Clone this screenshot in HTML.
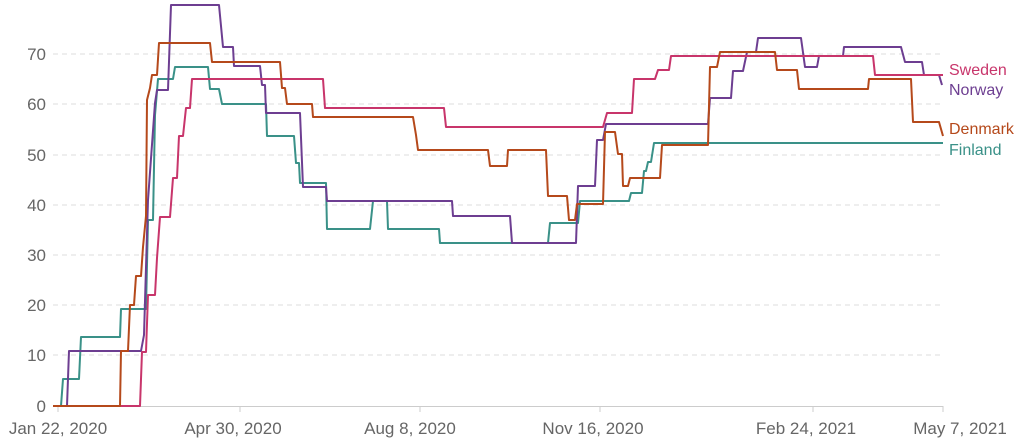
<!DOCTYPE html>
<html><head><meta charset="utf-8"><style>
body{margin:0;background:#fff;}
svg text{font-family:"Liberation Sans",sans-serif;}
</style></head><body>
<svg width="1024" height="443" viewBox="0 0 1024 443" xmlns="http://www.w3.org/2000/svg">
<g stroke="#ddd" stroke-dasharray="5,4" stroke-width="1">
<line x1="53" x2="943" y1="54" y2="54"/><line x1="53" x2="943" y1="104" y2="104"/>
<line x1="53" x2="943" y1="155" y2="155"/><line x1="53" x2="943" y1="205" y2="205"/>
<line x1="53" x2="943" y1="255" y2="255"/><line x1="53" x2="943" y1="305" y2="305"/>
<line x1="53" x2="943" y1="355" y2="355"/>
</g>
<line x1="53" x2="943" y1="406.5" y2="406.5" stroke="#ccc"/>
<g stroke="#ccc"><line x1="58" x2="58" y1="406" y2="412"/><line x1="240" x2="240" y1="406" y2="412"/><line x1="420" x2="420" y1="406" y2="412"/><line x1="600" x2="600" y1="406" y2="412"/><line x1="813" x2="813" y1="406" y2="412"/><line x1="943" x2="943" y1="406" y2="412"/></g>
<g fill="#666" font-size="17" text-anchor="end">
<text x="46" y="60">70</text><text x="46" y="110">60</text><text x="46" y="161">50</text><text x="46" y="211">40</text><text x="46" y="261">30</text><text x="46" y="311">20</text><text x="46" y="361">10</text><text x="46" y="412">0</text>
</g>
<g fill="#666" font-size="17" text-anchor="middle">
<text x="58" y="434">Jan 22, 2020</text><text x="233" y="434">Apr 30, 2020</text><text x="410" y="434">Aug 8, 2020</text><text x="593" y="434">Nov 16, 2020</text><text x="806" y="434">Feb 24, 2021</text><text x="960" y="434">May 7, 2021</text>
</g>
<g fill="none" stroke-width="2" stroke-linejoin="round">
<polyline stroke="#3a9188" points="53,406 61,406 63,379 79,379 81,337 120,337 121,309 146,309 148,220 153,220 155,115 158,79 173,79 175,67 208,67 210,89 219,89 222,104 266,104 267,136 294,136 296,163 299,163 300,183 326,183 327,229 370,229 373,201 387,201 388,229 439,229 440,243 548,243 550,223 578,223 580,201 629,201 631,193 642,193 644,171 646,171 648,162 651,162 654,143 943,143"/>
<polyline stroke="#6d3e91" points="53,406 67,406 69,351 141,351 144,335 148,200 155,103 157,90 168,90 171,5 219,5 223,47 233,47 234,66 260,66 262,85 265,85 266,113 300,113 303,187 326,187 327,201 452,201 453,216 510,216 512,243 576,243 578,186 595,186 597,140 603,140 606,124 708,124 710,98 731,98 733,71 743,71 747,52 756,52 758,38 801,38 805,67 817,67 819,56 843,56 844,47 901,47 905,62 922,62 924,75 939,75 942,85"/>
<polyline stroke="#c8356b" points="53,406 140,406 142,352 146,352 148,295 155,295 157,258 160,217 170,217 173,178 177,178 179,136 183,136 186,108 190,108 192,79 323,79 325,108 444,108 446,127 603,127 607,113 632,113 634,79 655,79 658,70 669,70 671,56 873,56 875,75 943,75"/>
<polyline stroke="#b5491b" points="53,406 120,406 121,351 128,351 130,305 134,305 136,276 141,276 143,247 146,216 147,100 150,88 152,75 157,75 159,43 210,43 212,62 280,62 282,88 285,88 287,104 312,104 313,117 413,117 416,135 418,150 488,150 490,166 507,166 508,150 546,150 548,196 567,196 569,220 575,220 577,204 603,204 605,132 615,132 618,154 622,154 623,186 628,186 630,178 660,178 662,145 708,145 710,67 717,67 720,52 775,52 777,70 797,70 799,89 868,89 869,79 911,79 913,122 939,122 943,136"/>
</g>
<g font-size="16">
<text x="949" y="75" fill="#c8356b">Sweden</text>
<text x="949" y="95" fill="#6d3e91">Norway</text>
<text x="949" y="134" fill="#b5491b">Denmark</text>
<text x="949" y="155" fill="#3a9188">Finland</text>
</g>
</svg>
</body></html>
